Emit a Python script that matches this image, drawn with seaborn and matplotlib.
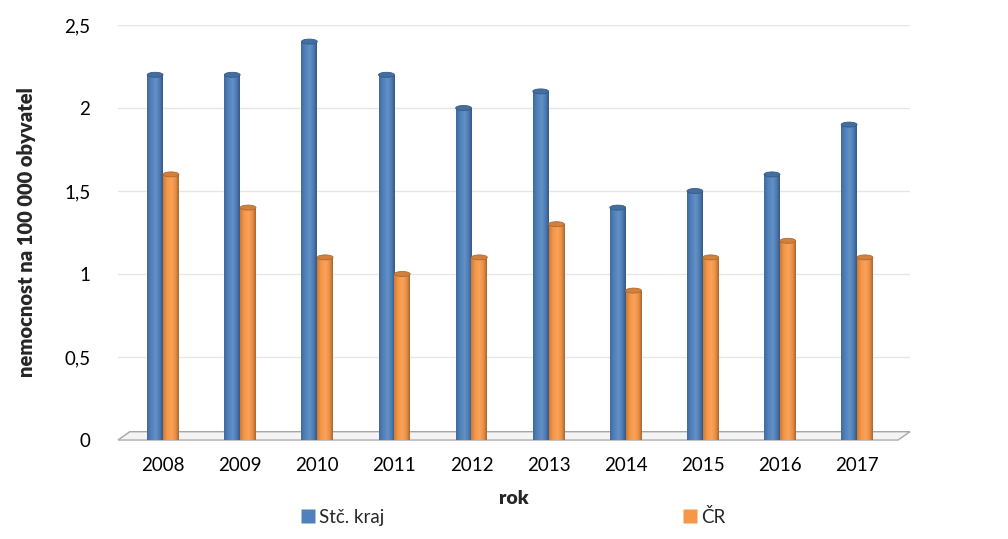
import matplotlib
matplotlib.use("Agg")
import matplotlib.pyplot as plt
import seaborn as sns
import pandas as pd
import numpy as np
from matplotlib.patches import Polygon, Ellipse
from matplotlib.lines import Line2D
from matplotlib.colors import LinearSegmentedColormap, to_rgb

years = ["2008", "2009", "2010", "2011", "2012", "2013", "2014", "2015", "2016", "2017"]
stc_kraj = [2.2, 2.2, 2.4, 2.2, 2.0, 2.1, 1.4, 1.5, 1.6, 1.9]
cr = [1.6, 1.4, 1.1, 1.0, 1.1, 1.3, 0.9, 1.1, 1.2, 1.1]
series_names = ["Stč. kraj", "ČR"]
y_ticks = [0, 0.5, 1, 1.5, 2, 2.5]
y_tick_labels = ["0", "0,5", "1", "1,5", "2", "2,5"]

df = pd.DataFrame({
    "rok": years * 2,
    "value": stc_kraj + cr,
    "series": [series_names[0]] * len(years) + [series_names[1]] * len(years),
})

sns.set_theme(style="white")
plt.rcParams["font.family"] = ["Lato", "DejaVu Sans"]

W, H = 1008, 539
fig = plt.figure(figsize=(W / 100, H / 100), dpi=100)
ax = fig.add_axes([118 / W, (H - 440) / H, (910 - 118) / W, (440 - 25) / H])

colors = {"Stč. kraj": "#4F81BD", "ČR": "#F79646"}
sns.barplot(data=df, x="rok", y="value", hue="series", palette=colors,
            width=0.41, gap=0.0, ax=ax, legend=False, saturation=1,
            edgecolor="none", linewidth=0)

ax.set_xlim(-0.584, 9.687)
ax.set_ylim(0, 2.5)

# cylinder shading: gradient clipped to each bar + elliptical cap
def shade(c, f):
    r = np.array(to_rgb(c))
    if f >= 1:
        return tuple(r + (1 - r) * (f - 1))
    return tuple(r * f)

grad = np.linspace(0, 1, 64).reshape(1, -1)
for p in list(ax.patches):
    fc = p.get_facecolor()[:3]
    cmap = LinearSegmentedColormap.from_list(
        "cyl", [(0, shade(fc, 0.82)), (0.25, shade(fc, 1.0)), (0.55, shade(fc, 1.12)),
                (0.8, shade(fc, 0.95)), (1, shade(fc, 0.68))])
    x0, y0 = p.get_x(), p.get_y()
    w, h = p.get_width(), p.get_height()
    im = ax.imshow(grad, cmap=cmap, aspect="auto", extent=[x0, x0 + w, y0, y0 + h],
                   zorder=p.get_zorder() + 0.1, interpolation="bilinear")
    im.set_clip_path(p)
    cap = Ellipse((x0 + w / 2, y0 + h), w, 0.03, facecolor=shade(fc, 0.85),
                  edgecolor=shade(fc, 0.7), linewidth=0.6, zorder=p.get_zorder() + 0.2)
    ax.add_patch(cap)
ax.set_xlim(-0.584, 9.687)
ax.set_ylim(0, 2.5)

ax.set_yticks(y_ticks)
ax.set_yticklabels(y_tick_labels)
ax.yaxis.grid(True, color="#e6e6e6", linewidth=1)
ax.set_axisbelow(True)
for s in ax.spines.values():
    s.set_visible(False)
ax.tick_params(axis="both", length=0, labelsize=13.5, colors="#000000")
ax.tick_params(axis="y", pad=20)
ax.tick_params(axis="x", pad=12)

# 3D floor
floor = Polygon([[0.0, 0.0], [0.985, 0.0], [1.0, 0.02], [0.015, 0.02]],
                closed=True, transform=ax.transAxes, facecolor="#f4f4f4",
                edgecolor="#a6a6a6", linewidth=1, clip_on=False, zorder=0.5)
ax.add_patch(floor)

ax.set_xlabel("rok", fontsize=14, fontweight="heavy", labelpad=12)
ax.set_ylabel("nemocnost na 100 000 obyvatel", fontsize=14.5, fontweight="heavy", labelpad=20)

handles = [Line2D([0], [0], marker="s", linestyle="none", markersize=10,
                  markerfacecolor=colors[n], markeredgecolor="none") for n in series_names]
fig.legend(handles, series_names, loc="center", bbox_to_anchor=(0.508, (H - 517) / H),
           ncol=2, frameon=False, fontsize=13.5, columnspacing=15.8, handletextpad=0.1,
           handlelength=1.0)

fig.savefig("out.png", dpi=100)
